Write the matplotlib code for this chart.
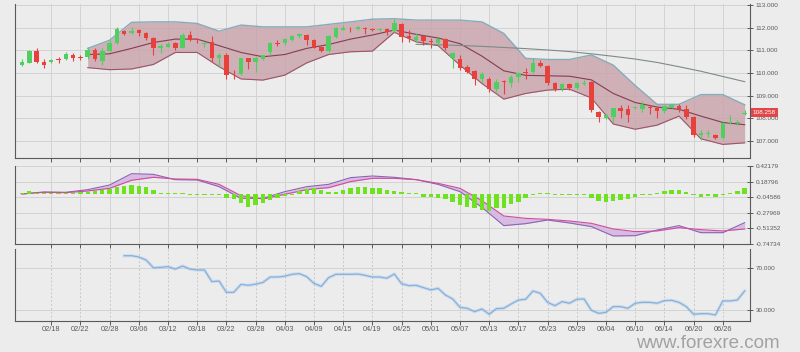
import numpy as np
import pandas as pd
import matplotlib
matplotlib.use("Agg")
import matplotlib.pyplot as plt

plt.rcParams['font.family'] = ['Liberation Sans', 'DejaVu Sans']

# ---- data ----
dates = pd.bdate_range("2019-02-12", periods=100)
tick_labels = ['02/18', '02/22', '02/28', '03/06', '03/12', '03/18', '03/22', '03/28',
               '04/03', '04/09', '04/15', '04/19', '04/25', '05/01', '05/07', '05/13',
               '05/17', '05/23', '05/29', '06/04', '06/10', '06/14', '06/20', '06/26']

opens = [110.35, 110.46, 110.99, 110.47, 110.49, 110.60, 110.60, 110.81, 110.70, 110.72,
         111.03, 110.54, 110.99, 111.35, 111.85, 111.75, 111.88, 111.75, 111.53, 111.09,
         111.16, 111.31, 111.12, 111.68, 111.50, 111.30, 111.38, 110.65, 110.79, 109.96,
         109.94, 110.65, 110.47, 110.62, 110.94, 111.35, 111.31, 111.46, 111.65, 111.68,
         111.46, 111.16, 110.97, 111.60, 111.91, 112.00, 111.94, 112.01, 111.94, 111.89,
         111.93, 111.85, 112.15, 111.65, 111.46, 111.63, 111.43, 111.35, 111.50, 110.68,
         110.62, 110.25, 110.09, 109.74, 109.76, 109.29, 109.65, 109.54, 109.84, 110.06,
         110.03, 110.46, 110.31, 109.57, 109.29, 109.51, 109.35, 109.53, 109.62, 108.29,
         108.00, 108.07, 108.44, 108.40, 108.45, 108.41, 108.50, 108.47, 108.32, 108.47,
         108.56, 108.41, 108.07, 107.26, 107.30, 107.26, 107.12, 107.79, 107.80, 108.18]
highs = [110.60, 111.03, 111.09, 110.60, 110.62, 110.72, 110.94, 110.87, 110.82, 111.16,
         111.09, 111.09, 111.46, 112.04, 111.90, 112.04, 111.93, 111.80, 111.60, 111.30,
         111.38, 111.38, 111.75, 111.85, 111.56, 111.38, 111.65, 110.87, 110.87, 110.13,
         110.68, 110.68, 110.72, 110.82, 111.38, 111.46, 111.53, 111.68, 111.75, 111.71,
         111.50, 111.20, 111.68, 112.04, 112.12, 112.03, 112.09, 112.04, 111.97, 111.97,
         111.97, 112.38, 112.19, 111.90, 111.75, 111.68, 111.53, 111.53, 111.53, 110.94,
         110.79, 110.35, 110.13, 110.03, 109.84, 109.76, 109.69, 109.91, 110.03, 110.21,
         110.65, 110.57, 110.35, 109.62, 109.54, 109.54, 109.62, 109.69, 109.65, 108.32,
         108.18, 108.47, 108.59, 108.59, 108.55, 108.76, 108.59, 108.56, 108.59, 108.62,
         108.62, 108.59, 108.12, 107.49, 107.49, 107.29, 107.85, 108.15, 107.93, 108.37]
lows = [110.33, 110.43, 110.43, 110.24, 110.46, 110.46, 110.57, 110.54, 110.57, 110.60,
        110.55, 110.35, 110.94, 111.30, 111.68, 111.72, 111.65, 111.46, 110.80, 110.87,
        111.13, 111.01, 111.09, 111.41, 111.35, 111.16, 110.50, 110.28, 109.73, 109.76,
        109.91, 110.18, 110.06, 110.57, 110.82, 111.20, 111.26, 111.41, 111.56, 111.24,
        111.09, 110.91, 110.94, 111.56, 111.88, 111.82, 111.90, 111.74, 111.85, 111.85,
        111.68, 111.82, 111.38, 111.38, 111.38, 111.24, 111.09, 111.24, 111.01, 110.21,
        110.13, 109.99, 109.47, 109.62, 109.15, 109.18, 109.06, 109.40, 109.62, 109.76,
        109.99, 110.28, 109.47, 109.21, 109.21, 109.25, 109.29, 109.47, 108.29, 107.85,
        107.97, 107.85, 108.00, 107.85, 108.40, 108.29, 108.18, 108.00, 108.22, 108.44,
        108.29, 107.97, 107.18, 107.04, 107.19, 107.09, 107.09, 107.75, 107.69, 108.15]
closes = [110.47, 110.99, 110.50, 110.35, 110.59, 110.57, 110.85, 110.65, 110.66, 111.03,
          110.60, 110.99, 111.35, 111.94, 111.72, 111.87, 111.75, 111.53, 111.12, 111.20,
          111.29, 111.12, 111.68, 111.46, 111.45, 111.33, 110.68, 110.79, 109.91, 109.94,
          110.65, 110.50, 110.68, 110.79, 111.35, 111.30, 111.50, 111.65, 111.71, 111.46,
          111.12, 110.97, 111.65, 112.01, 112.01, 111.97, 112.04, 111.93, 111.88, 111.93,
          111.82, 112.19, 111.60, 111.53, 111.60, 111.41, 111.38, 111.50, 111.09, 110.87,
          110.24, 110.06, 109.74, 109.94, 109.29, 109.62, 109.59, 109.84, 109.99, 110.01,
          110.46, 110.32, 109.57, 109.29, 109.51, 109.32, 109.56, 109.57, 108.37, 108.07,
          108.15, 108.44, 108.34, 108.15, 108.48, 108.59, 108.47, 108.32, 108.53, 108.59,
          108.41, 108.07, 107.26, 107.34, 107.34, 107.12, 107.78, 107.85, 107.84, 108.258]

# Bollinger band, read every third bar
bb_idx = list(range(9, 100, 3))
bb_upper = [111.09, 111.45, 112.24, 112.26, 112.26, 112.19, 111.85, 112.12, 112.04, 112.04,
            112.04, 112.15, 112.26, 112.38, 112.40, 112.34, 112.34, 112.34, 112.26, 111.75,
            110.65, 110.60, 110.60, 110.80, 110.35, 109.45, 108.62, 108.62, 109.05, 109.05,
            108.60]
bb_mid = [110.82, 110.85, 111.09, 111.35, 111.50, 111.50, 111.21, 110.91, 110.72, 110.82,
          111.09, 111.26, 111.50, 111.68, 111.90, 111.71, 111.55, 111.30, 110.75, 110.10,
          109.90, 109.88, 109.86, 109.70, 109.10, 108.70, 108.50, 108.40, 108.10, 107.82,
          107.72]
bb_lower = [110.24, 110.15, 110.18, 110.38, 110.91, 110.91, 110.28, 109.74, 109.69, 109.91,
            110.45, 110.82, 110.94, 110.97, 111.80, 111.38, 111.21, 110.35, 109.54, 108.85,
            109.10, 109.25, 109.29, 108.90, 107.75, 107.52, 107.70, 108.10, 107.10, 106.85,
            106.92]

# long moving average
sma_idx = list(range(54, 100, 3))
sma_vals = [111.27, 111.25, 111.22, 111.18, 111.13, 111.08, 111.02, 110.95, 110.85, 110.74,
            110.62, 110.47, 110.28, 110.08, 109.85, 109.62]

# MACD
macd_idx = list(range(0, 100, 3))
macd_line = [0.000, 0.030, 0.025, 0.065, 0.135, 0.306, 0.296, 0.216, 0.211, 0.110,
             -0.066, -0.066, 0.035, 0.110, 0.145, 0.246, 0.271, 0.251, 0.216, 0.145,
             0.035, -0.202, -0.478, -0.448, -0.393, -0.438, -0.493, -0.634, -0.629, -0.544,
             -0.478, -0.584, -0.584, -0.433]
signal_line = [0.000, 0.025, 0.020, 0.045, 0.085, 0.206, 0.251, 0.226, 0.221, 0.145,
               -0.026, -0.076, -0.005, 0.065, 0.095, 0.186, 0.236, 0.236, 0.216, 0.160,
               0.085, -0.101, -0.332, -0.368, -0.383, -0.408, -0.443, -0.528, -0.568, -0.558,
               -0.508, -0.538, -0.558, -0.528]
macd_hist = [0.015, 0.050, 0.015, 0.015, 0.015, 0.015, 0.015, 0.015, 0.030, 0.035,
             0.045, 0.055, 0.075, 0.105, 0.125, 0.135, 0.125, 0.100, 0.055, 0.015,
             0.012, 0.012, 0.012, -0.012, -0.012, -0.012, -0.015, -0.020, -0.055, -0.075,
             -0.140, -0.190, -0.165, -0.140, -0.090, -0.055, -0.025, -0.012, 0.045, 0.075,
             0.085, 0.060, 0.035, 0.025, 0.055, 0.085, 0.100, 0.100, 0.095, 0.085,
             0.065, 0.045, 0.030, 0.020, 0.012, -0.040, -0.050, -0.055, -0.075, -0.115,
             -0.165, -0.190, -0.215, -0.240, -0.255, -0.215, -0.205, -0.155, -0.115, -0.065,
             -0.012, 0.020, 0.012, -0.012, -0.012, -0.012, -0.012, -0.012, -0.055, -0.105,
             -0.125, -0.105, -0.090, -0.075, -0.040, -0.012, -0.012, 0.012, 0.045, 0.065,
             0.055, 0.025, -0.012, -0.040, -0.035, -0.045, -0.015, 0.015, 0.045, 0.095]

# RSI
rsi_idx = list(range(14, 100))
rsi_vals = [81.7, 81.7, 80.5, 77.6, 70.3, 70.6, 71.3, 69.0, 71.9, 69.0,
            68.1, 68.1, 57.0, 57.6, 46.8, 46.8, 54.4, 53.5, 54.6, 56.2,
            61.4, 61.4, 62.2, 64.0, 64.6, 61.7, 55.3, 52.5, 60.8, 64.0,
            64.0, 64.0, 64.3, 63.0, 61.4, 61.4, 60.3, 64.3, 55.0, 53.2,
            53.5, 51.3, 49.1, 50.6, 44.3, 40.5, 32.5, 31.6, 28.4, 31.0,
            25.9, 31.3, 31.6, 35.7, 39.5, 40.2, 48.1, 45.9, 37.3, 34.1,
            38.0, 36.4, 40.2, 40.5, 29.7, 26.8, 27.8, 33.2, 33.2, 31.6,
            36.4, 37.3, 37.3, 36.4, 38.9, 39.2, 37.3, 33.2, 25.9, 26.5,
            26.5, 25.2, 38.6, 38.6, 39.5, 48.1]

price_ticks = [107, 108, 109, 110, 111, 112, 113]
macd_ticks = [-0.74734, -0.51352, -0.27969, -0.04586, 0.18796, 0.42179]
rsi_ticks = [30, 70]

# ---- styling ----
bg = '#ececec'
grid_c = '#d3d3d3'
axis_c = '#5a5a5a'
up_c = '#4fcf5f'
down_c = '#e8413c'

x = np.arange(len(closes))
label_str = list(dates.strftime('%m/%d'))
tick_pos = [label_str.index(t) for t in tick_labels]

fig = plt.figure(figsize=(8, 3.52), dpi=100)
fig.patch.set_facecolor(bg)
W, H = 800, 352
ax1 = fig.add_axes([15 / W, (H - 158) / H, 735 / W, 154 / H])
ax2 = fig.add_axes([15 / W, (H - 243.5) / H, 735 / W, 77.5 / H])
ax3 = fig.add_axes([15 / W, (H - 321) / H, 735 / W, 72 / H])


def style(ax, yticks, fmt, ylim):
    ax.set_facecolor(bg)
    ax.set_xlim(-0.96, 99.73)
    ax.set_ylim(*ylim)
    ax.spines['top'].set_visible(False)
    for s in ['left', 'bottom', 'right']:
        ax.spines[s].set_color(axis_c)
        ax.spines[s].set_linewidth(0.8)
    ax.yaxis.tick_right()
    ax.set_yticks(yticks)
    ax.set_yticklabels([fmt.format(v) for v in yticks])
    ax.set_xticks(tick_pos)
    ax.tick_params(axis='y', direction='inout', length=5, width=0.7,
                   colors=axis_c, labelsize=4.6, pad=1.5)
    ax.tick_params(axis='x', direction='out', length=3, width=0.7,
                   colors=axis_c, labelsize=5.3, pad=0.6)
    ax.grid(True, color=grid_c, lw=0.7)
    ax.set_axisbelow(True)


style(ax1, price_ticks, '{:.3f}', (106.25, 113.05))
style(ax2, macd_ticks, '{:.5f}', (-0.74734, 0.42179))
style(ax3, rsi_ticks, '{:.3f}', (19.5, 88.1))
ax1.tick_params(axis='x', labelbottom=False)
ax2.tick_params(axis='x', labelbottom=False)
ax3.set_xticklabels(tick_labels)
ax3.grid(axis='x', linestyle=(0, (2, 2)), color='#c8c8c8')

# ---- price panel ----
ax1.fill_between(bb_idx, bb_lower, bb_upper, color='#c7a2a9', alpha=0.8, lw=0, zorder=1)
ax1.plot(bb_idx, bb_upper, color='#86abb9', lw=1.0, zorder=2)
ax1.plot(bb_idx, bb_lower, color='#9c5466', lw=0.8, zorder=2)
ax1.plot(bb_idx, bb_mid, color='#873c52', lw=0.8, zorder=2)
ax1.plot(sma_idx, sma_vals, color='#7d8b87', lw=0.8, zorder=2)

o = np.array(opens)
c = np.array(closes)
cols = np.where(c >= o, up_c, down_c)
ax1.vlines(x, lows, highs, colors=cols, lw=0.8, zorder=3)
body_h = np.maximum(np.abs(c - o), 0.03)
ax1.bar(x, body_h, bottom=np.minimum(o, c), width=0.62, color=cols, lw=0, zorder=4)

ax1.text(1.004, closes[-1], '{:.3f}'.format(closes[-1]), transform=ax1.get_yaxis_transform(),
         ha='left', va='center', fontsize=4.6, color='white', zorder=10, clip_on=False,
         bbox=dict(boxstyle='square,pad=0.25', fc='#e24646', ec='none'))

# ---- MACD panel ----
ax2.fill_between(macd_idx, macd_line, signal_line, color='#d6b9e2', alpha=0.95, lw=0, zorder=1)
ax2.plot(macd_idx, macd_line, color='#8d63b3', lw=0.8, zorder=2)
ax2.plot(macd_idx, signal_line, color='#cf4c9c', lw=0.8, zorder=2)
ax2.bar(x, macd_hist, width=0.6, color='#6fe21f', lw=0, zorder=3)

# ---- RSI panel ----
ax3.plot(rsi_idx, rsi_vals, color='#9cc3ea', lw=2.4, alpha=0.35, zorder=2)
ax3.plot(rsi_idx, rsi_vals, color='#86b1dc', lw=0.9, zorder=3)

# watermark sits just under the date labels
fig.text(0.885, 4.5 / H, 'www.forexre.com', ha='center', va='baseline',
         fontsize=13.5, color='#a2a2a2')

fig.savefig('out.png', dpi=100, facecolor=bg)
